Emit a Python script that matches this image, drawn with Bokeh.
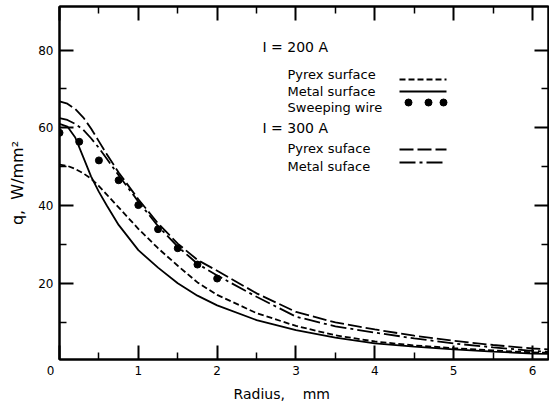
from bokeh.plotting import figure
from bokeh.models import Range1d, FixedTicker, LinearAxis, Label, Title
from bokeh.embed import file_html
from bokeh.resources import INLINE

# ---------------- data ----------------
radius = [0, 0.1, 0.2, 0.3, 0.4, 0.5, 0.6, 0.75, 1.0, 1.25, 1.5, 1.75, 2.0,
          2.5, 3.0, 3.5, 4.0, 4.5, 5.0, 5.5, 6.0, 6.2]
metal_200 = [61.0, 60.3, 57.5, 52.5, 47.5, 43.5, 40.0, 35.0, 28.5, 24.0, 20.0, 16.8, 14.3,
             10.5, 7.9, 6.0, 4.5, 3.7, 3.0, 2.4, 1.9, 1.8]
pyrex_200 = [50.5, 50.2, 49.4, 48.3, 46.9, 45.0, 42.8, 39.5, 34.0, 29.0, 24.5, 20.2, 17.0,
             12.3, 9.0, 6.6, 5.0, 4.0, 3.3, 2.7, 2.2, 2.1]
pyrex_300 = [66.8, 66.2, 64.8, 62.7, 59.8, 56.5, 53.2, 48.5, 41.6, 35.4, 30.2, 26.0, 23.2,
             17.4, 12.6, 9.9, 8.1, 6.5, 5.2, 4.1, 3.2, 3.0]
metal_300 = [62.5, 62.0, 61.0, 59.5, 57.3, 54.8, 52.0, 47.8, 41.0, 34.7, 29.4, 25.0, 22.0,
             16.5, 11.4, 8.9, 7.3, 5.8, 4.5, 3.5, 2.6, 2.3]
wire_r = [0, 0.25, 0.5, 0.75, 1.0, 1.25, 1.5, 1.75, 2.0]
wire_q = [58.7, 56.4, 51.6, 46.5, 40.1, 33.9, 29.0, 24.8, 21.2]

x_ticks = [0, 1, 2, 3, 4, 5, 6]
x_minor = [0.5, 1.5, 2.5, 3.5, 4.5, 5.5]
y_ticks = [20, 40, 60, 80]
y_minor = [10, 30, 50, 70]
x_title = "Radius,\u00a0\u00a0\u00a0\u00a0mm"
y_title = "q,\u00a0\u00a0W/mm\u00b2"

# ---------------- layout ----------------
W, H = 549, 408
FL, FR, FT, FB = 59, 548, 6, 359
X0, X1 = 0.0, 6.203
Y0, Y1 = 0.37, 91.2
FONT = "DejaVu Sans"


def dx(px):
    return X0 + (px - FL) * (X1 - X0) / (FR - FL)


def dy(py):
    return Y0 + (FB - py) * (Y1 - Y0) / (FB - FT)


p = figure(width=W, height=H, x_range=Range1d(X0, X1), y_range=Range1d(Y0, Y1),
           output_backend="svg", toolbar_location=None,
           min_border_left=FL, min_border_right=W - FR,
           min_border_top=FT, min_border_bottom=H - FB,
           x_axis_location=None, y_axis_location=None)
p.xgrid.visible = False
p.ygrid.visible = False
p.outline_line_color = "black"
p.outline_line_width = 2
p.background_fill_color = "white"
p.border_fill_color = "white"


def style_axis(ax, ticks, minor, labels=True, standoff=5):
    ax.ticker = FixedTicker(ticks=ticks, minor_ticks=minor)
    ax.axis_line_color = "black"
    ax.axis_line_width = 2
    ax.major_tick_line_color = "black"
    ax.major_tick_line_width = 2
    ax.minor_tick_line_color = "black"
    ax.minor_tick_line_width = 1.5
    ax.major_tick_in = 14
    ax.major_tick_out = 0
    ax.minor_tick_in = 7
    ax.minor_tick_out = 0
    ax.major_label_text_font = FONT
    ax.major_label_text_color = "black"
    ax.major_label_standoff = standoff
    if labels:
        ax.major_label_text_font_size = "12px"
    else:
        ax.major_label_text_font_size = "0px"
        ax.major_label_standoff = 0
        ax.major_label_overrides = {t: "" for t in ticks}


xb = LinearAxis()
style_axis(xb, x_ticks, x_minor, True, 4)
xb.major_label_overrides = {0: "0\u2002\u2002\u2002"}
p.add_layout(xb, "below")

yl = LinearAxis()
style_axis(yl, y_ticks, y_minor, True, 6)
yl.axis_label = y_title
yl.axis_label_text_font = FONT
yl.axis_label_text_font_size = "16px"
yl.axis_label_text_font_style = "normal"
yl.axis_label_text_color = "black"
yl.axis_label_standoff = 8
p.add_layout(yl, "left")

xt = LinearAxis()
style_axis(xt, x_ticks, x_minor, False)
p.add_layout(xt, "above")
yr = LinearAxis()
style_axis(yr, y_ticks, y_minor, False)
p.add_layout(yr, "right")

p.add_layout(Title(text=x_title, align="left", offset=174, standoff=6,
                   text_font=FONT, text_font_size="14px", text_font_style="normal",
                   text_color="black"), "below")

# ---------------- curves ----------------
LW = 1.8
p.line(radius, metal_200, line_color="black", line_width=LW)
p.line(radius, pyrex_200, line_color="black", line_width=LW, line_dash="6 3")
p.line(radius, pyrex_300, line_color="black", line_width=LW, line_dash="14 4")
p.line(radius, metal_300, line_color="black", line_width=LW, line_dash="16 4 3 4")
p.scatter(wire_r, wire_q, size=7, color="black")


# ---------------- legend texts ----------------
def label(px, py, text, size="13px"):
    p.add_layout(Label(x=dx(px), y=dy(py), text=text, text_align="left",
                       text_baseline="middle", text_font=FONT, text_font_size=size,
                       text_color="black"))


label(262, 46, "I = 200 A", size="14px")
label(287, 74, "Pyrex surface")
label(287, 91, "Metal surface")
label(287, 107, "Sweeping wire")
label(262, 127, "I = 300 A", size="14px")
label(287, 148, "Pyrex suface")
label(287, 166, "Metal suface")

# legend keys
kx = [dx(399), dx(446)]
p.line(kx, [dy(79)] * 2, line_color="black", line_width=LW, line_dash="6 3")
p.line(kx, [dy(91)] * 2, line_color="black", line_width=LW)
p.scatter([dx(408), dx(428), dx(443)], [dy(102)] * 3, size=7, color="black")
p.line(kx, [dy(149)] * 2, line_color="black", line_width=LW, line_dash="14 4")
p.line(kx, [dy(162)] * 2, line_color="black", line_width=LW, line_dash="16 4 3 4")

open("out.html", "w").write(file_html(p, INLINE))
